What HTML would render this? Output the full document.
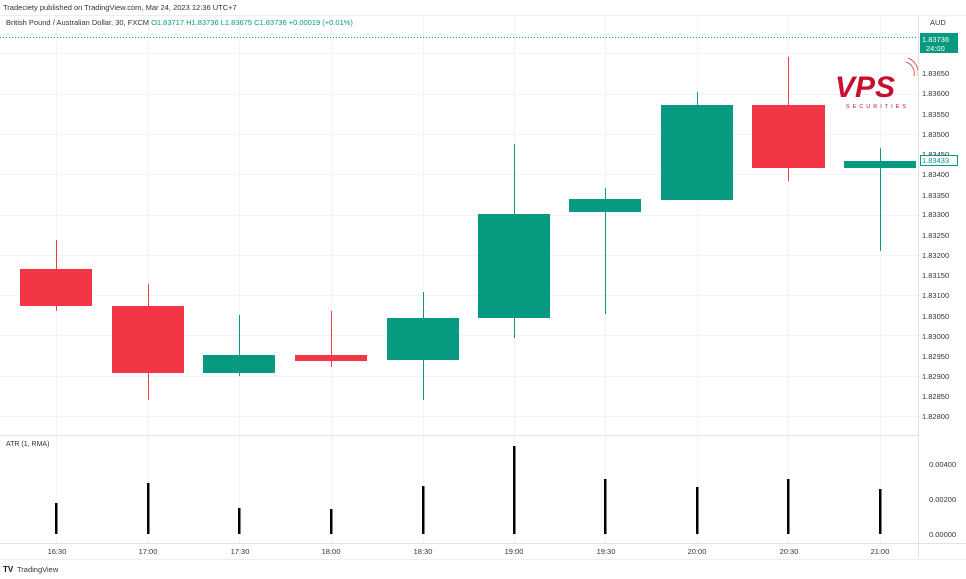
<!DOCTYPE html>
<html><head><meta charset="utf-8"><style>
body{margin:0;background:#fff;width:966px;height:574px;overflow:hidden;font-family:"Liberation Sans",sans-serif}
</style></head><body>
<svg width="966" height="574" xmlns="http://www.w3.org/2000/svg" font-family="Liberation Sans, sans-serif">
<rect width="966" height="574" fill="#fff"/>
<text x="3" y="10" font-size="7.5" fill="#333">Tradeciety published on TradingView.com, Mar 24, 2023 12:36 UTC+7</text>
<line x1="0" y1="15.5" x2="966" y2="15.5" stroke="#eee"/>
<!-- grid -->
<g stroke="#f0f3fa" stroke-width="1">
<line x1="0" y1="53.5" x2="918" y2="53.5"/><line x1="0" y1="94.5" x2="918" y2="94.5"/>
<line x1="0" y1="134.5" x2="918" y2="134.5"/><line x1="0" y1="174.5" x2="918" y2="174.5"/>
<line x1="0" y1="215.5" x2="918" y2="215.5"/><line x1="0" y1="255.5" x2="918" y2="255.5"/>
<line x1="0" y1="295.5" x2="918" y2="295.5"/><line x1="0" y1="335.5" x2="918" y2="335.5"/>
<line x1="0" y1="376.5" x2="918" y2="376.5"/><line x1="0" y1="416.5" x2="918" y2="416.5"/>
<line x1="56.5" y1="16" x2="56.5" y2="543"/><line x1="148.5" y1="16" x2="148.5" y2="543"/>
<line x1="239.5" y1="16" x2="239.5" y2="543"/><line x1="331.5" y1="16" x2="331.5" y2="543"/>
<line x1="423.5" y1="16" x2="423.5" y2="543"/><line x1="514.5" y1="16" x2="514.5" y2="543"/>
<line x1="605.5" y1="16" x2="605.5" y2="543"/><line x1="697.5" y1="16" x2="697.5" y2="543"/>
<line x1="788.5" y1="16" x2="788.5" y2="543"/><line x1="880.5" y1="16" x2="880.5" y2="543"/>
</g>
<text x="6" y="25" font-size="7.5" fill="#333">British Pound / Australian Dollar, 30, FXCM <tspan fill="#089981">O1.83717  H1.83736  L1.83675  C1.83736  +0.00019 (+0.01%)</tspan></text>
<line x1="0" y1="37.5" x2="918" y2="37.5" stroke="#089981" stroke-dasharray="1,2"/>
<!-- candles -->
<g>
<line x1="56.5" y1="240" x2="56.5" y2="311" stroke="#f23645"/><rect x="20" y="269" width="72" height="37" fill="#f23645"/>
<line x1="148.5" y1="284" x2="148.5" y2="400" stroke="#f23645"/><rect x="112" y="306" width="72" height="67" fill="#f23645"/>
<line x1="239.5" y1="315" x2="239.5" y2="376" stroke="#089981"/><rect x="203" y="355" width="72" height="18" fill="#089981"/>
<line x1="331.5" y1="311" x2="331.5" y2="367" stroke="#f23645"/><rect x="295" y="355" width="72" height="6" fill="#f23645"/>
<line x1="423.5" y1="292" x2="423.5" y2="400" stroke="#089981"/><rect x="387" y="318" width="72" height="42" fill="#089981"/>
<line x1="514.5" y1="144" x2="514.5" y2="338" stroke="#089981"/><rect x="478" y="214" width="72" height="104" fill="#089981"/>
<line x1="605.5" y1="188" x2="605.5" y2="314" stroke="#089981"/><rect x="569" y="199" width="72" height="13" fill="#089981"/>
<line x1="697.5" y1="92" x2="697.5" y2="200" stroke="#089981"/><rect x="661" y="105" width="72" height="95" fill="#089981"/>
<line x1="788.5" y1="57" x2="788.5" y2="181" stroke="#f23645"/><rect x="752" y="105" width="73" height="63" fill="#f23645"/>
<line x1="880.5" y1="148" x2="880.5" y2="251" stroke="#089981"/><rect x="844" y="161" width="72" height="7" fill="#089981"/>
</g>
<!-- VPS logo -->
<text x="835" y="97" font-size="30" font-weight="bold" fill="#c8102e" font-style="italic">VPS</text>
<text x="846" y="108" font-size="5.5" letter-spacing="3" fill="#c8102e">SECURITIES</text>
<path d="M906 62 a12 12 0 0 1 8 14 M908 58 a16 16 0 0 1 10 18" stroke="#d33" fill="none" stroke-width="0.8"/>
<!-- axis -->
<line x1="918.5" y1="16" x2="918.5" y2="558" stroke="#e0e3eb"/>
<line x1="0" y1="435.5" x2="918" y2="435.5" stroke="#e0e3eb"/>
<line x1="0" y1="543.5" x2="966" y2="543.5" stroke="#e0e3eb"/>
<g font-size="7.5" fill="#333">
<text x="930" y="25">AUD</text>
<text x="922" y="76">1.83650</text><text x="922" y="96">1.83600</text><text x="922" y="117">1.83550</text>
<text x="922" y="137">1.83500</text><text x="922" y="157">1.83450</text><text x="922" y="177">1.83400</text>
<text x="922" y="217">1.83300</text><text x="922" y="198">1.83350</text><text x="922" y="238">1.83250</text>
<text x="922" y="278">1.83150</text><text x="922" y="258">1.83200</text><text x="922" y="298">1.83100</text>
<text x="922" y="319">1.83050</text><text x="922" y="339">1.83000</text><text x="922" y="359">1.82950</text>
<text x="922" y="379">1.82900</text><text x="922" y="399">1.82850</text><text x="922" y="419">1.82800</text>
<text x="929" y="467">0.00400</text><text x="929" y="502">0.00200</text><text x="929" y="537">0.00000</text>
</g>
<rect x="920" y="33" width="38" height="20" fill="#089981"/>
<text x="922" y="42" font-size="7.5" fill="#fff">1.83736</text><text x="926" y="51" font-size="7.5" fill="#fff">24:00</text>
<rect x="920.5" y="155.5" width="37" height="10" fill="#fff" stroke="#089981"/>
<text x="922" y="163" font-size="7.5" fill="#089981">1.83433</text>
<!-- ATR -->
<text x="6" y="446" font-size="7" fill="#333">ATR (1, RMA)</text>
<g fill="#000">
<rect x="55" y="503" width="2.5" height="31"/><rect x="147" y="483" width="2.5" height="51"/>
<rect x="238" y="508" width="2.5" height="26"/><rect x="330" y="509" width="2.5" height="25"/>
<rect x="422" y="486" width="2.5" height="48"/><rect x="513" y="446" width="2.5" height="88"/>
<rect x="604" y="479" width="2.5" height="55"/><rect x="696" y="487" width="2.5" height="47"/>
<rect x="787" y="479" width="2.5" height="55"/><rect x="879" y="489" width="2.5" height="45"/>
</g>
<g font-size="7.5" fill="#333" text-anchor="middle">
<text x="57" y="554">16:30</text><text x="148" y="554">17:00</text><text x="240" y="554">17:30</text>
<text x="331" y="554">18:00</text><text x="423" y="554">18:30</text><text x="514" y="554">19:00</text>
<text x="606" y="554">19:30</text><text x="697" y="554">20:00</text><text x="789" y="554">20:30</text>
<text x="880" y="554">21:00</text>
</g>
<line x1="0" y1="559.5" x2="966" y2="559.5" stroke="#eee"/>
<text x="3" y="572" font-size="8" font-weight="bold" fill="#131722">TV</text>
<text x="17" y="572" font-size="7.5" fill="#333">TradingView</text>
</svg>
</body></html>
